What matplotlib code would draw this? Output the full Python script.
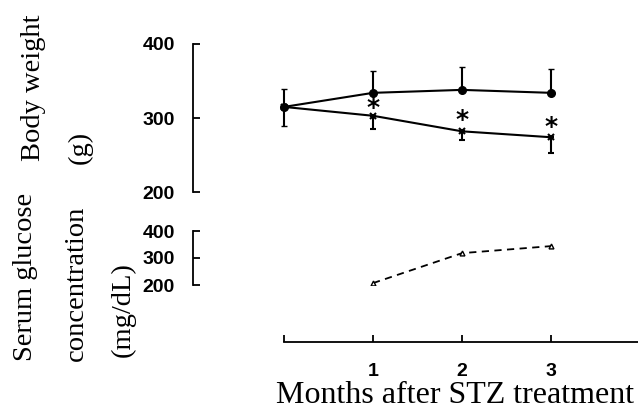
import numpy as np
import matplotlib
matplotlib.use('Agg')
import matplotlib.pyplot as plt

months = [0, 1, 2, 3]
control_bw = [315, 334, 338, 334]
control_err_lo = [26, 0, 0, 0]
control_err_hi = [24, 30, 31, 32]
stz_bw = [315, 303, 282, 274]
stz_err_lo = [0, 18, 12, 21]
stz_err_hi = [0, 0, 0, 0]
star_months = [1, 2, 3]
star_y = [314, 297, 288]
glucose_months = [1, 2, 3]
glucose = [207, 318, 344]
yticks = [200, 300, 400]
xtick_labels = ['', '1', '2', '3']

W, H = 638, 415
tick_font = dict(family=['Liberation Sans', 'DejaVu Sans'], weight='bold', size=14)
serif = ['Liberation Serif', 'DejaVu Serif']


def px_axes(fig, left, top, right, bottom):
    return fig.add_axes([left / W, 1 - bottom / H, (right - left) / W, (bottom - top) / H])


fig = plt.figure(figsize=(W / 100, H / 100), dpi=100)
xlim = (-(284 - 193) / 89, (638 - 284) / 89)

# body weight panel
ax1 = px_axes(fig, 193, 44, 638, 192)
ax1.set_xlim(*xlim)
ax1.set_ylim(200, 400)
ax1.errorbar(months, control_bw, yerr=[control_err_lo, control_err_hi], color='black',
             marker='o', markersize=5.5, lw=1.5, capsize=2.5, elinewidth=1.5)
ax1.errorbar(months, stz_bw, yerr=[stz_err_lo, stz_err_hi], color='black',
             marker='x', markersize=4.5, mew=1.5, lw=1.5, capsize=2, elinewidth=1.5)
for m, y in zip(star_months, star_y):
    ax1.text(m, y, '*', ha='center', va='center', fontsize=18, fontweight='bold')

# glucose panel
ax2 = px_axes(fig, 193, 231, 638, 285)
ax2.set_xlim(*xlim)
ax2.set_ylim(200, 400)
ax2.plot(glucose_months, glucose, color='black', ls=(0, (4, 3)), lw=1.3,
         marker='^', markersize=3.5, mfc='white', mew=1)

for ax in (ax1, ax2):
    for s in ('top', 'right', 'bottom'):
        ax.spines[s].set_visible(False)
    ax.spines['left'].set_linewidth(1.3)
    ax.set_xticks([])
    ax.set_yticks(yticks)
    ax.tick_params(axis='y', direction='in', length=5, width=1.3, pad=13)
    for t in ax.get_yticklabels():
        t.set_fontproperties(matplotlib.font_manager.FontProperties(**tick_font))
    ax.patch.set_alpha(0)

# shared month axis
ax3 = px_axes(fig, 193, 300, 638, 342)
ax3.set_xlim(*xlim)
ax3.set_ylim(0, 1)
for s in ('top', 'right', 'left'):
    ax3.spines[s].set_visible(False)
ax3.spines['bottom'].set_bounds(0, xlim[1])
ax3.spines['bottom'].set_linewidth(1.3)
ax3.set_yticks([])
ax3.set_xticks(months)
ax3.set_xticklabels(xtick_labels, **tick_font)
ax3.tick_params(axis='x', direction='in', length=5, width=1.3, pad=15)
ax3.patch.set_alpha(0)
fig.text(455 / W, 1 - 403 / H, 'Months after STZ treatment', ha='center', va='baseline',
         family=serif, fontsize=23)

# left labels
lab = dict(rotation=90, ha='center', va='center', family=serif, fontsize=20.5)
fig.text(34 / W, 1 - 88 / H, 'Body weight', **lab)
fig.text(80 / W, 1 - 147 / H, '(g)', **lab)
fig.text(26 / W, 1 - 277 / H, 'Serum glucose', **lab)
fig.text(76 / W, 1 - 283 / H, 'concentration', **lab)
fig.text(123 / W, 1 - 310 / H, '(mg/dL)', **lab)

fig.savefig('out.png', dpi=100)
